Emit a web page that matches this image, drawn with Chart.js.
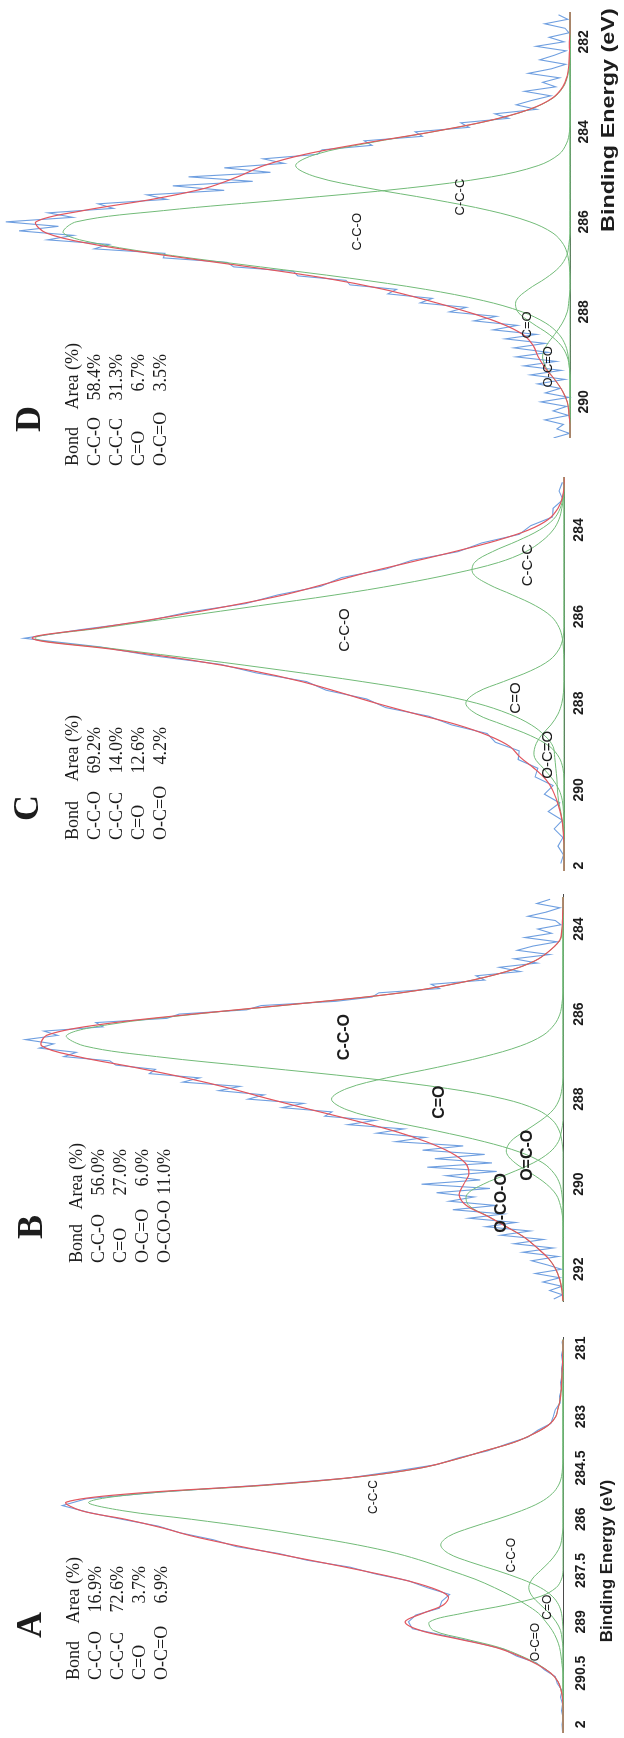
<!DOCTYPE html>
<html>
<head>
<meta charset="utf-8">
<script src="https://cdn.jsdelivr.net/npm/chart.js@4.4.1/dist/chart.umd.min.js"></script>
<style>
  html, body { margin: 0; padding: 0; background: #fff; }
  body { width: 624px; height: 1738px; overflow: hidden; position: relative; }
  /* the four spectra are laid out side by side, then the strip is turned to portrait */
  #strip { position: absolute; left: 0; top: 0; width: 1738px; height: 624px;
           transform-origin: 0 0; transform: translate(0, 1738px) rotate(-90deg); }
  #strip canvas { position: absolute; top: 0; }
</style>
</head>
<body>
<div id="strip">
  <canvas id="panelA" width="485" height="624"></canvas>
  <canvas id="panelB" width="497" height="624"></canvas>
  <canvas id="panelC" width="482" height="624"></canvas>
  <canvas id="panelD" width="514" height="624"></canvas>
</div>
<script>
// ---------- Panel A ----------
var aEnergy = [280.75,281,281.25,281.5,281.75,282,282.25,282.5,282.75,283,283.25,283.5,283.75,284,284.25,284.5,284.75,285,285.25,285.5,285.75,286,286.25,286.5,286.75,287,287.25,287.5,287.75,288,288.25,288.5,288.75,289,289.25,289.5,289.75,290,290.25,290.5,290.75,291,291.25,291.5,291.75,292,292.25];
var aCCC = [0,0,0.1,0.1,0.2,0.3,0.4,0.6,1.0,1.5,3,6,10,16,22,29,41,60,86,97,90,76,63,52,42,34,28,23,18,14,10.5,7.5,5,3.5,2.2,1.3,0.7,0.4,0.2,0,0,0,0,0,0,0,0];
var aCCO = [0,0,0,0,0,0,0,0,0,0,0,0,0,0,0,0.1,0.3,0.9,2.2,4.6,8.5,13.5,19,23.4,25,23.4,19,13.5,8.5,4.6,2.2,0.9,0.3,0.1,0,0,0,0,0,0,0,0,0,0,0,0,0];
var aCO  = [0,0,0,0,0,0,0,0,0,0,0,0,0,0,0,0,0,0,0,0,0,0,0,0.2,0.5,1.4,2.8,4.6,6.3,7,6.3,4.6,2.8,1.4,0.5,0.2,0,0,0,0,0,0,0,0,0,0,0];
var aOCO = [0,0,0,0,0,0,0,0,0,0,0,0,0,0,0,0,0,0,0,0,0,0,0,0,0,0,0,0,0.3,1.4,4.5,11.4,20.6,27.3,26.5,20,13,8.5,5,2.5,1,0.4,0,0,0,0,0];
var aFit = [0,0,0.1,0.1,0.2,0.3,0.4,0.6,1.0,1.5,3,6,10,16,22,29.1,41.3,60.9,88.2,101.6,98.5,89.5,82,75.6,67.5,58.8,49.8,41.1,33.1,27,23.5,24.4,28.7,32.3,29.2,21.5,13.7,8.9,5.2,2.5,1,0.4,0.1,0,0,0,0];
var aRawE = [280.8,281,281.2,281.4,281.6,281.8,282,282.2,282.4,282.6,282.8,283,283.2,283.4,283.6,283.8,284,284.2,284.4,284.6,284.8,285,285.2,285.4,285.6,285.8,286,286.2,286.4,286.6,286.8,287,287.2,287.4,287.6,287.8,288,288.2,288.4,288.6,288.8,289,289.2,289.4,289.6,289.8,290,290.2,290.4,290.6,290.8,291,291.2,291.4,291.6,291.8,292,292.2];
var aRaw = [0.2,0,0.3,0.1,0.3,0.2,0.5,0.3,0.7,0.6,1.6,2.0,2.5,5.2,7.2,11.5,15.4,21.3,25.8,34.6,44.2,61.5,82.0,97.5,102.4,97.0,90.2,82.8,78.2,71.5,66.8,58.2,52.3,43.6,38.3,31.6,27.8,23.2,24.8,25.3,30.1,31.6,30.8,24.2,17.8,12.1,9.5,5.4,3.8,1.6,1.2,0.2,0.5,0.1,0.3,0,0.2,0.1];
var aTicks = [281, 283, 284.5, 286, 287.5, 289, 290.5, 292];
var aTickText = ['281', '283', '284.5', '286', '287.5', '289', '290.5', '2'];
var aLegend = [['C-C-O', '16.9%'], ['C-C-C', '72.6%'], ['C=O', '3.7%'], ['O-C=O', '6.9%']];
var aPeakNames = ['C-C-C', 'C-C-O', 'C=O', 'O-C=O'];

// ---------- Panel B ----------
var bEnergy = [283.25,283.5,283.75,284,284.25,284.5,284.75,285,285.25,285.5,285.75,286,286.25,286.5,286.75,287,287.25,287.5,287.75,288,288.25,288.5,288.75,289,289.25,289.5,289.75,290,290.25,290.5,290.75,291,291.25,291.5,291.75,292,292.25,292.5,292.75];
var bCCO  = [0,0,0,0.2,0.5,2.5,5.5,11,19.5,31.5,50.5,71.3,88.5,96.5,93,79,59,39,22.4,11.3,5,2,0.7,0.2,0,0,0,0,0,0,0,0,0,0,0,0,0,0,0];
var bCO   = [0,0,0,0,0,0,0,0,0,0,0.2,0.6,1.7,3.9,8.3,15.3,24.4,34.3,42,45,42,34.3,24.4,15.3,8.3,3.9,1.7,0.6,0.2,0,0,0,0,0,0,0,0,0,0];
var bOCO  = [0,0,0,0,0,0,0,0,0,0,0,0,0,0,0,0,0,0,0.2,0.7,1.9,4.3,7.4,10.2,11,9.3,6.1,3.2,1.3,0.5,0.1,0,0,0,0,0,0,0,0];
var bOCOO = [0,0,0,0,0,0,0,0,0,0,0,0,0,0,0,0,0,0,0,0,0,0,0.3,0.9,2.6,5.8,10.5,15.5,18.7,18.3,14.6,11,7.5,5,2.8,1.4,0.6,0.2,0];
var bFit  = [0,0,0.1,0.2,0.6,2.5,5.5,11,19.5,31.5,50.7,71.9,90.2,100.4,101.3,94.3,83.4,73.3,64.6,57,48.9,40.6,32.8,26.6,21.9,19,18.3,19.3,20.2,18.8,14.7,11,7.5,5,2.8,1.4,0.6,0.2,0];
var bRawE = [283.3,283.4,283.5,283.6,283.7,283.8,283.9,284,284.1,284.2,284.3,284.4,284.5,284.6,284.7,284.8,284.9,285,285.1,285.2,285.3,285.4,285.5,285.6,285.7,285.8,285.9,286,286.1,286.2,286.3,286.4,286.5,286.6,286.7,286.8,286.9,287,287.1,287.2,287.3,287.4,287.5,287.6,287.7,287.8,287.9,288,288.1,288.2,288.3,288.4,288.5,288.6,288.7,288.8,288.9,289,289.1,289.2,289.3,289.4,289.5,289.6,289.7,289.8,289.9,290,290.1,290.2,290.3,290.4,290.5,290.6,290.7,290.8,290.9,291,291.1,291.2,291.3,291.4,291.5,291.6,291.7,291.8,291.9,292,292.1,292.2,292.3,292.4,292.5,292.6,292.7];
var bRaw  = [2.5,5.1,0.6,3.2,6.8,1.5,0.4,4.9,2.2,7.4,
             1.1,5.8,8.9,2.6,9.5,5.0,12.4,8.3,16.9,15.2,
             25.6,24.0,35.8,37.1,44.2,58.7,61.5,74.6,77.0,90.8,
             89.4,100.9,98.2,104.5,99.0,101.8,94.6,97.0,88.1,86.9,
             79.2,80.4,70.6,73.9,62.8,66.9,58.1,61.2,50.4,54.6,
             44.9,46.3,36.5,41.8,30.9,36.2,26.8,32.5,19.4,27.3,
             15.2,24.9,13.8,26.4,12.9,22.7,16.1,27.5,14.2,24.6,
             17.3,22.1,13.0,21.4,11.6,18.3,9.2,15.0,6.4,12.1,
             3.8,9.5,1.9,7.8,0.9,6.1,3.0,0.3,5.4,0.6,
             3.9,0.2,2.6,0.1,1.8];
var bTicks = [284, 286, 288, 290, 292];
var bTickText = ['284', '286', '288', '290', '292'];
var bLegend = [['C-C-O', '56.0%'], ['C=O', '27.0%'], ['O-C=O', '6.0%'], ['O-CO-O', '11.0%']];
var bPeakNames = ['C-C-O', 'C=O', 'O=C-O', 'O-CO-O'];

// ---------- Panel C ----------
var cEnergy = [282.75,283,283.25,283.5,283.75,284,284.25,284.5,284.75,285,285.25,285.5,285.75,286,286.25,286.5,286.75,287,287.25,287.5,287.75,288,288.25,288.5,288.75,289,289.25,289.5,289.75,290,290.25,290.5,290.75,291,291.25,291.5,291.75,292];
var cCCO = [0,0,0.1,0.4,0.9,2,4,7,12,20,30,42,56,70,84,97,82,66,51,37,25,16,10,6,3.5,2,1.7,1.5,1.3,1.2,1.0,0.6,0.3,0.1,0,0,0,0];
var cCCC = [0,0,0.2,0.7,1.9,4.5,8.5,13.1,16.4,16.7,13.9,9.4,5.2,2.3,0.9,0.3,0.1,0,0,0,0,0,0,0,0,0,0,0,0,0,0,0,0,0,0,0,0,0];
var cCO  = [0,0,0,0,0,0,0,0,0,0,0,0,0,0,0,0.2,0.9,2.6,6.1,11.1,16,18,16,11.1,6.1,2.6,0.9,0.2,0,0,0,0,0,0,0,0,0,0];
var cOCO = [0,0,0,0,0,0,0,0,0,0,0,0,0,0,0,0,0,0,0,0,0.1,0.4,1.1,2.4,4.2,5.3,5.4,3.8,2.1,0.9,0.3,0.1,0,0,0,0,0,0];
var cFit = [0,0,0.3,1.1,2.8,6.5,12.5,20.1,28.4,36.7,43.9,51.4,61.2,72.3,84.9,97.5,83,68.6,57.1,48.1,41.1,34.4,27.1,19.5,13.8,9.9,8.0,5.5,3.4,2.1,1.3,0.7,0.3,0.1,0,0,0,0];
var cRawE = [282.9,283.1,283.3,283.5,283.7,283.9,284.1,284.3,284.5,284.7,284.9,285.1,285.3,285.5,285.7,285.9,286.1,286.3,286.5,286.7,286.9,287.1,287.3,287.5,287.7,287.9,288.1,288.3,288.5,288.7,288.9,289.1,289.3,289.5,289.7,289.9,290.1,290.3,290.5,290.7,290.9,291.1,291.3,291.5,291.7];
var cRaw = [0.3,0.9,0.2,2.0,2.1,6.1,8.2,15.1,19.4,27.9,32.6,40.8,44.6,52.5,58.4,69.0,76.4,88.6,99.0,85.0,75.6,63.1,56.4,47.2,43.6,36.2,32.7,24.8,20.6,14.1,12.6,8.2,8.4,4.8,5.3,2.0,3.6,0.8,2.9,0.3,1.8,0.2,1.1,0.1,0.6];
var cTicks = [284, 286, 288, 290, 291.75];
var cTickText = ['284', '286', '288', '290', '2'];
var cLegend = [['C-C-O', '69.2%'], ['C-C-C', '14.0%'], ['C=O', '12.6%'], ['O-C=O', '4.2%']];
var cPeakNames = ['C-C-O', 'C-C-C', 'C=O', 'O-C=O'];

// ---------- Panel D ----------
var dEnergy = [281.25,281.5,281.75,282,282.25,282.5,282.75,283,283.25,283.5,283.75,284,284.25,284.5,284.75,285,285.25,285.5,285.75,286,286.25,286.5,286.75,287,287.25,287.5,287.75,288,288.25,288.5,288.75,289,289.25,289.5,289.75,290,290.25,290.5,290.75,291];
var dCCC = [0,0,0,0,0,0.1,0.4,1.2,3.1,7.3,14.6,25,36.8,46.3,50,46.3,36.8,25,14.6,7.3,3.1,1.2,0.4,0.1,0,0,0,0,0,0,0,0,0,0,0,0,0,0,0,0];
var dCCO = [0,0,0,0,0,0,0,0,0,0,0,0.1,0.6,2,5.8,14.3,29.6,51.2,74.1,90,92.3,85.4,72.4,56.4,40.2,26.3,15.8,8.7,4.4,2,0.8,0.3,0.1,0,0,0,0,0,0,0];
var dCO  = [0,0,0,0,0,0,0,0,0,0,0,0,0,0,0,0,0,0,0,0,0,0.2,0.6,1.9,4.4,7.6,9.8,9.5,6.9,3.8,1.6,0.5,0.1,0,0,0,0,0,0,0];
var dOCO = [0,0,0,0,0,0,0,0,0,0,0,0,0,0,0,0,0,0,0,0,0,0,0,0,0,0,0.2,0.5,1.4,2.8,4.3,5,4.3,2.8,1.4,0.5,0.2,0,0,0];
var dFit = [0,0,0,0.1,0.1,0.2,0.5,1.3,3.2,7.4,14.7,25.1,37.4,48.3,55.8,60.6,66.4,76.2,88.7,97.3,95.4,86.8,73.4,58.4,44.6,33.9,25.8,18.7,12.7,8.6,6.7,5.8,4.5,2.8,1.4,0.5,0.2,0,0,0];
var dRawE = [281.4,281.5,281.6,281.7,281.8,281.9,282,282.1,282.2,282.3,282.4,282.5,282.6,282.7,282.8,282.9,283,283.1,283.2,283.3,283.4,283.5,283.6,283.7,283.8,283.9,284,284.1,284.2,284.3,284.4,284.5,284.6,284.7,284.8,284.9,285,285.1,285.2,285.3,285.4,285.5,285.6,285.7,285.8,285.9,286,286.1,286.2,286.3,286.4,286.5,286.6,286.7,286.8,286.9,287,287.1,287.2,287.3,287.4,287.5,287.6,287.7,287.8,287.9,288,288.1,288.2,288.3,288.4,288.5,288.6,288.7,288.8,288.9,289,289.1,289.2,289.3,289.4,289.5,289.6,289.7,289.8,289.9,290,290.1,290.2,290.3,290.4,290.5,290.6,290.7,290.8];
var dRaw = [2.1,0.4,4.6,0.9,0.2,3.8,1.1,6.2,0.7,2.9,
            5.5,0.8,3.4,7.6,1.9,5.0,2.6,8.3,3.5,6.9,
            9.8,6.1,13.7,11.2,19.9,18.4,28.2,26.9,37.5,36.1,
            45.2,46.0,55.9,52.1,63.0,54.6,69.5,57.8,72.4,63.0,
            77.1,73.5,86.0,83.2,95.1,90.6,102.8,93.2,100.4,90.5,
            95.2,84.0,86.7,73.8,74.1,62.5,61.3,50.4,49.6,40.8,
            40.1,31.6,33.2,25.1,27.3,18.9,22.0,13.4,17.5,9.6,
            14.0,6.1,11.8,4.5,10.2,3.9,9.8,2.5,8.4,1.6,
            7.2,0.9,5.9,1.8,4.5,0.2,5.3,0.6,3.1,0.3,
            4.6,1.2,2.4,0.1,3.0];
var dTicks = [282, 284, 286, 288, 290];
var dTickText = ['282', '284', '286', '288', '290'];
var dLegend = [['C-C-O', '58.4%'], ['C-C-C', '31.3%'], ['C=O', '6.7%'], ['O-C=O', '3.5%']];
var dPeakNames = ['C-C-O', 'C-C-C', 'C=O', 'O-C=O'];

var rawColor = '#6f9fe0';
var fitColor = '#e2565e';
var partColor = '#72bb78';
var inkColor = '#1d1d1d';
var sansFont = '"Liberation Sans", Arial, sans-serif';
var serifFont = '"Liberation Serif", "Times New Roman", serif';

function pts(xs, ys) {
  return xs.map(function (x, i) { return { x: x, y: ys[i] }; });
}

// Panel letter, bond table, peak names, tick numbers and axis title, drawn over the plot
function panelText(p) {
  return {
    id: 'panelText',
    afterDraw: function (chart) {
      var ctx = chart.ctx, area = chart.chartArea;
      var xs = chart.scales.x, ys = chart.scales.y;
      ctx.save();
      ctx.fillStyle = inkColor;
      ctx.textBaseline = 'middle';

      ctx.font = 'bold 36px ' + serifFont;
      ctx.textAlign = 'center';
      ctx.fillText(p.letter, area.left + p.letterAt[0], p.letterAt[1]);

      var lx = area.left + p.table.x0, rx = area.left + p.table.xr;
      ctx.font = '18px ' + serifFont;
      ctx.textAlign = 'left';
      ctx.fillText('Bond', lx, p.table.y0);
      ctx.textAlign = 'right';
      ctx.fillText('Area (%)', area.left + p.table.xa, p.table.y0);
      p.legend.forEach(function (row, i) {
        var y = p.table.y0 + (i + 1) * p.table.gap;
        ctx.textAlign = 'left';
        ctx.fillText(row[0], lx, y);
        ctx.textAlign = 'right';
        ctx.fillText(row[1], rx, y);
      });

      ctx.font = p.peakFont;
      ctx.textAlign = 'center';
      p.peakNames.forEach(function (name, i) {
        var at = p.peakAt[i];
        ctx.fillText(name, xs.getPixelForValue(at[0]), ys.getPixelForValue(at[1]));
      });

      ctx.font = 'bold 14px ' + sansFont;
      p.ticks.forEach(function (v, i) {
        ctx.fillText(p.tickText[i], xs.getPixelForValue(v), area.bottom + p.tickDy);
      });

      if (p.title) {
        ctx.font = 'bold ' + p.title.size + 'px ' + sansFont;
        ctx.translate(xs.getPixelForValue(p.title.e), area.bottom + p.title.dy);
        ctx.scale(p.title.stretch, 1);
        ctx.fillText('Binding Energy (eV)', 0, 0);
      }
      ctx.restore();
    }
  };
}

function makePanel(p) {
  var parts = p.parts.map(function (vals) {
    return { data: pts(p.energy, vals), borderColor: partColor, borderWidth: 1, tension: 0.35 };
  });
  var datasets = [{ data: pts(p.energy, p.fit), borderColor: fitColor, borderWidth: 1.2, tension: 0.35 }]
    .concat(parts)
    .concat([{ data: pts(p.rawE, p.raw), borderColor: rawColor, borderWidth: 1.1, tension: 0 }]);
  datasets.forEach(function (ds) {
    ds.pointRadius = 0;
    ds.fill = false;
    ds.clip = { left: 1, right: 1, top: 30, bottom: 2 };
  });

  var canvas = document.getElementById(p.id);
  canvas.style.left = p.left + 'px';

  new Chart(canvas, {
    type: 'line',
    data: { datasets: datasets },
    options: {
      responsive: false,
      animation: false,
      events: [],
      layout: { padding: { left: 60, right: 30, top: 30, bottom: 0 } },
      plugins: { legend: { display: false }, tooltip: { enabled: false } },
      scales: {
        x: {
          type: 'linear',
          reverse: true,
          min: p.axisMin,
          max: p.axisMax,
          grid: { display: false },
          border: { display: true, color: '#4a4a4a', width: 1 },
          ticks: { display: false },
          afterFit: function (scale) {
            scale.height = 624 - p.baseline;
            scale.paddingLeft = 0;
            scale.paddingRight = 0;
          }
        },
        y: { display: false, min: 0, max: p.yMax }
      }
    },
    plugins: [panelText(p)]
  });
}

makePanel({
  id: 'panelA', left: -55, axisMin: 280.7, axisMax: 292.25, baseline: 563, yMax: 109,
  energy: aEnergy, fit: aFit, parts: [aCCC, aCCO, aCO, aOCO], rawE: aRawE, raw: aRaw,
  ticks: aTicks, tickText: aTickText, tickDy: 18, legend: aLegend, peakNames: aPeakNames,
  letter: 'A', letterAt: [108, 32],
  table: { x0: 53, xr: 167, xa: 176, y0: 74, gap: 22 },
  peakFont: '12px ' + sansFont,
  peakAt: [[285.35, 38.8], [287.05, 10.4], [288.57, 3.1], [289.59, 5.5]],
  title: { e: 287.22, dy: 44, size: 17, stretch: 1 }
});

makePanel({
  id: 'panelB', left: 376, axisMin: 283.2, axisMax: 292.77, baseline: 563, yMax: 103.6,
  energy: bEnergy, fit: bFit, parts: [bCCO, bCO, bOCO, bOCOO], rawE: bRawE, raw: bRaw,
  ticks: bTicks, tickText: bTickText, tickDy: 16, legend: bLegend, peakNames: bPeakNames,
  letter: 'B', letterAt: [75, 33],
  table: { x0: 39, xr: 153, xa: 159, y0: 77, gap: 22 },
  peakFont: 'bold 16px ' + sansFont,
  peakAt: [[286.54, 42.4], [288.07, 23.9], [289.32, 6.8], [290.44, 11.9]],
  title: null
});

makePanel({
  id: 'panelC', left: 808, axisMin: 282.8, axisMax: 291.85, baseline: 564, yMax: 97.9,
  energy: cEnergy, fit: cFit, parts: [cCCO, cCCC, cCO, cOCO], rawE: cRawE, raw: cRaw,
  ticks: cTicks, tickText: cTickText, tickDy: 15, legend: cLegend, peakNames: cPeakNames,
  letter: 'C', letterAt: [62, 29],
  table: { x0: 30, xr: 143, xa: 155, y0: 73, gap: 22 },
  peakFont: '15px ' + sansFont,
  peakAt: [[286.31, 40.1], [284.81, 6.6], [287.88, 8.8], [289.19, 2.9]],
  title: null
});

makePanel({
  id: 'panelD', left: 1241, axisMin: 281.36, axisMax: 290.78, baseline: 570, yMax: 98.4,
  energy: dEnergy, fit: dFit, parts: [dCCO, dCCC, dCO, dOCO], rawE: dRawE, raw: dRaw,
  ticks: dTicks, tickText: dTickText, tickDy: 14, legend: dLegend, peakNames: dPeakNames,
  letter: 'D', letterAt: [18, 31],
  table: { x0: -29, xr: 83, xa: 94, y0: 73, gap: 22 },
  peakFont: '13px ' + sansFont,
  peakAt: [[286.22, 38.8], [285.45, 20], [288.29, 7.7], [289.22, 4.0]],
  title: { e: 283.74, dy: 39, size: 18, stretch: 1.3 }
});
</script>
</body>
</html>
